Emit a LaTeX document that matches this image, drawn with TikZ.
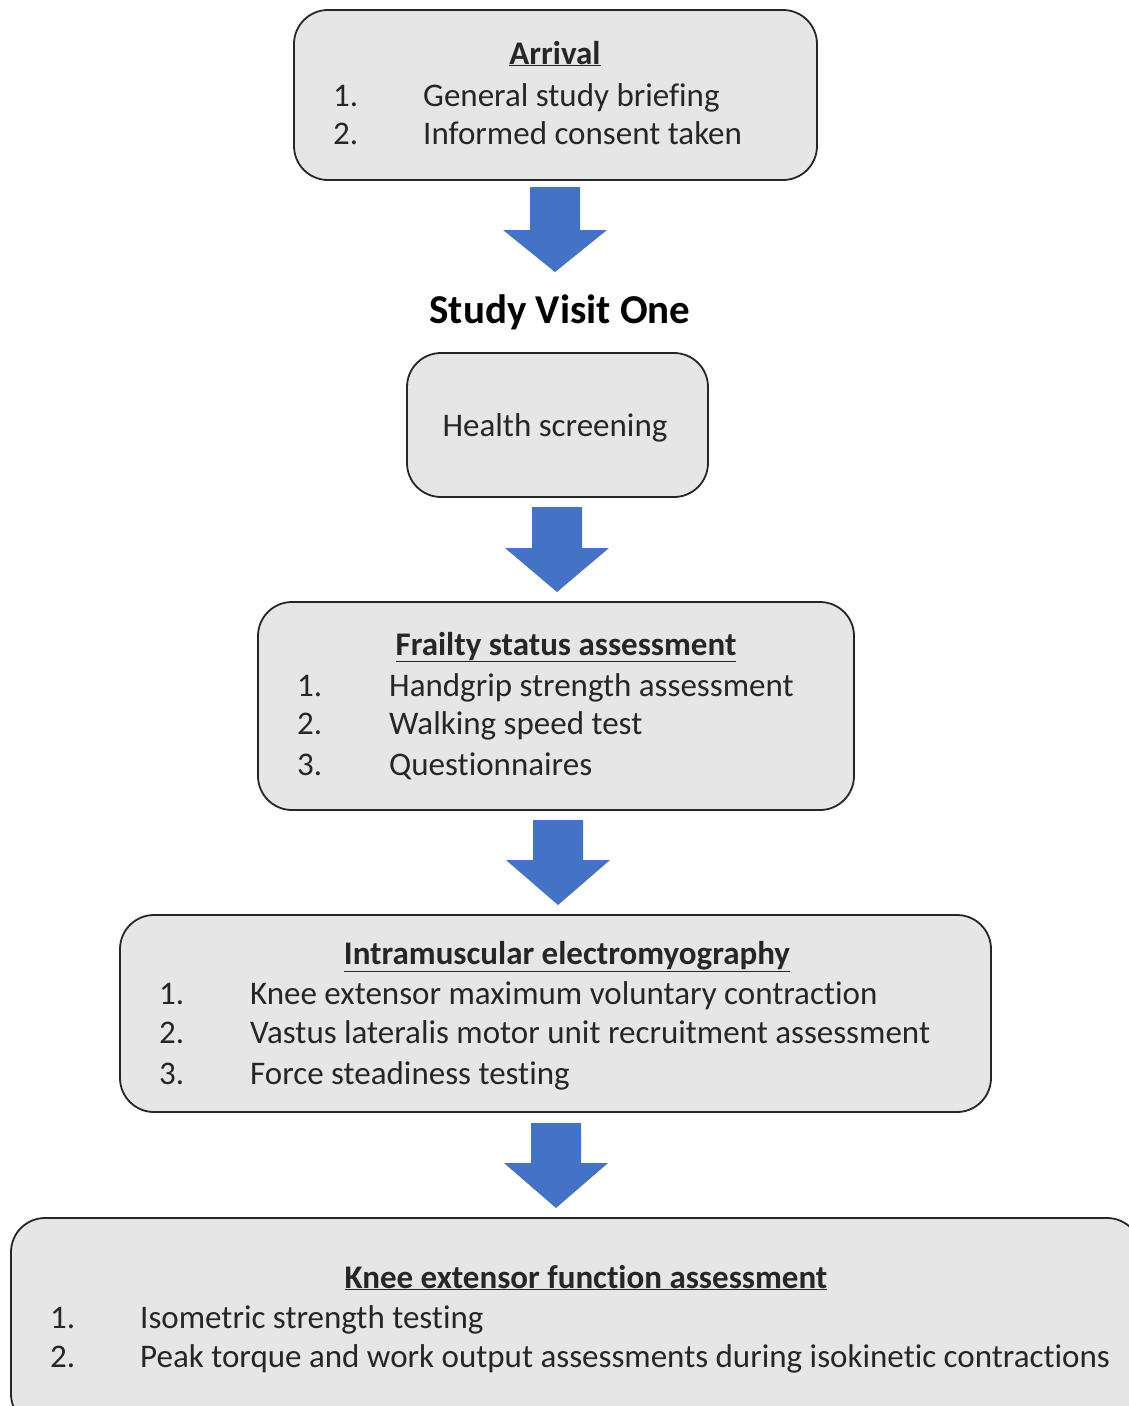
\documentclass[tikz,border=0pt]{standalone}
\usepackage{fontspec}
\setmainfont[Ligatures=NoCommon]{Carlito}
\usepackage{xcolor}
\usetikzlibrary{positioning}

\definecolor{boxgray}{HTML}{E7E6E6}
\definecolor{arrowblue}{HTML}{4472C4}
\definecolor{inkgray}{HTML}{262626}

\tikzset{
  stage/.style={draw=inkgray, line width=1.8pt, fill=boxgray,
                rounded corners=34pt, inner sep=0pt},
  heading/.style={anchor=base, font=\fontsize{33}{39}\selectfont\bfseries,
                  text=inkgray, inner sep=0pt},
  bigtitle/.style={anchor=base, font=\fontsize{41}{48}\selectfont\bfseries,
                   text=black, inner sep=0pt},
  entry/.style={anchor=base west, font=\fontsize{33}{39}\selectfont,
                text=inkgray, inner sep=0pt},
  flow/.style={fill=arrowblue}
}

\begin{document}
\begin{tikzpicture}[x=1pt, y=-1pt]
  \useasboundingbox (0,0) rectangle (1129,1406);

  % boxes
  \node[stage, minimum width=523pt, minimum height=170pt] (arrival) at (555.5,95) {};
  \node[stage, minimum width=301pt, minimum height=144pt] (health) at (557.5,425) {};
  \node[stage, minimum width=596pt, minimum height=208pt] (frailty) at (556,706) {};
  \node[stage, minimum width=871pt, minimum height=197pt] (emg) at (555.5,1013.5) {};
  \node[stage, minimum width=1130pt, minimum height=210pt] (knee) at (576,1323) {};

  % arrival
  \node[heading] (arrivalT) at (555,64) {\underline{Arrival}};
  \foreach \n/\y/\txt in {1/106/General study briefing, 2/144/Informed consent taken}{
    \node[entry] (arrN\n) at (333,\y) {\n.};
    \node[entry] (arrI\n) at (423,\y) {\txt};
  }

  % visit heading
  \node[bigtitle] (visit) at (560,323) {Study Visit One};
  \node[entry, anchor=base] (healthT) at (555,436) {Health screening};

  % frailty
  \node[heading] (frailtyT) at (566,655) {\underline{Frailty status assessment}};
  \foreach \n/\y/\txt in {1/696/Handgrip strength assessment,
                          2/734/Walking speed test,
                          3/775/Questionnaires}{
    \node[entry] (frN\n) at (297,\y) {\n.};
    \node[entry] (frI\n) at (389,\y) {\txt};
  }

  % electromyography
  \node[heading] (emgT) at (567,964) {\underline{Intramuscular electromyography}};
  \foreach \n/\y/\txt in {1/1004/Knee extensor maximum voluntary contraction,
                          2/1043/Vastus lateralis motor unit recruitment assessment,
                          3/1084/Force steadiness testing}{
    \node[entry] (emgN\n) at (159,\y) {\n.};
    \node[entry] (emgI\n) at (250,\y) {\txt};
  }

  % knee function
  \node[heading] (kneeT) at (586,1288) {\underline{Knee extensor function assessment}};
  \foreach \n/\y/\txt in {1/1328/Isometric strength testing,
                          2/1367/Peak torque and work output assessments during isokinetic contractions}{
    \node[entry] (knN\n) at (50,\y) {\n.};
    \node[entry] (knI\n) at (140,\y) {\txt};
  }

  % block arrows: centre x / top / shoulder / tip
  \foreach \cx/\top/\mid/\tip in {555/187/230/272, 557/507/548/592,
                                  558/820/860/905, 556/1123/1163/1208}{
    \fill[flow] (\cx-25,\top) -- (\cx+25,\top) -- (\cx+25,\mid) -- (\cx+52,\mid)
      -- (\cx,\tip) -- (\cx-52,\mid) -- (\cx-25,\mid) -- cycle;
  }
\end{tikzpicture}
\end{document}
